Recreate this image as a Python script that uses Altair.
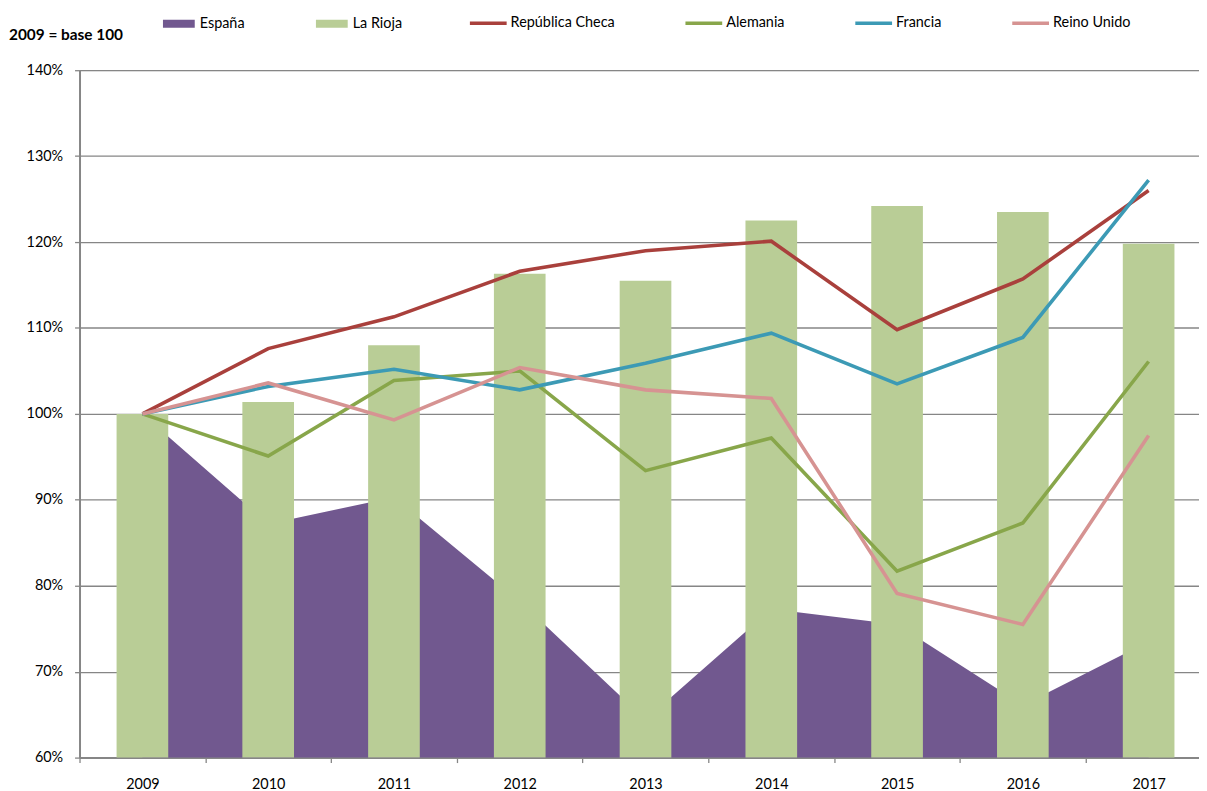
import altair as alt
import pandas as pd

years = ["2009", "2010", "2011", "2012", "2013", "2014", "2015", "2016", "2017"]
espana = [1.000, 0.872, 0.903, 0.782, 0.644, 0.773, 0.755, 0.661, 0.735]
la_rioja = [1.000, 1.014, 1.080, 1.163, 1.155, 1.225, 1.242, 1.235, 1.198]
rep_checa = [1.000, 1.076, 1.113, 1.166, 1.190, 1.201, 1.098, 1.157, 1.260]
alemania = [1.000, 0.951, 1.039, 1.050, 0.934, 0.972, 0.817, 0.873, 1.061]
francia = [1.000, 1.032, 1.052, 1.028, 1.059, 1.094, 1.035, 1.089, 1.272]
reino_unido = [1.000, 1.036, 0.993, 1.054, 1.028, 1.018, 0.791, 0.755, 0.975]
y_ticks = [0.6, 0.7, 0.8, 0.9, 1.0, 1.1, 1.2, 1.3, 1.4]

fill_names = ["España", "La Rioja"]
fill_colors = ["#71588F", "#B9CD96"]
line_names = ["República Checa", "Alemania", "Francia", "Reino Unido"]
line_colors = ["#A9403C", "#88A64A", "#3C9AB5", "#D69392"]

FONT = "Lato"

area_df = pd.DataFrame({"year": years, "value": espana, "serie": "España"})
bar_df = pd.DataFrame({"year": years, "value": la_rioja, "serie": "La Rioja"})
line_df = pd.concat(
    [
        pd.DataFrame({"year": years, "value": vals, "serie": name, "order": i})
        for i, (name, vals) in enumerate(zip(line_names, [rep_checa, alemania, francia, reino_unido]))
    ],
    ignore_index=True,
)

x_enc = alt.X(
    "year:N",
    sort=years,
    title=None,
    scale=alt.Scale(paddingInner=0, paddingOuter=0, range=[0, 1139.6]),
    axis=alt.Axis(
        labelAngle=0,
        labelFont=FONT,
        labelFontSize=14.5,
        labelColor="#000000",
        labelPadding=15,
        tickBand="extent",
        tickSize=5,
        tickColor="#868686",
        tickWidth=1.3,
        domainColor="#868686",
        domainWidth=2,
        grid=False,
    ),
)
y_scale = alt.Scale(domain=[0.6, 1.4], nice=False, zero=False)
y_axis = alt.Axis(
    values=y_ticks,
    format=".0%",
    labelFont=FONT,
    labelFontSize=14.5,
    labelColor="#000000",
    labelPadding=12,
    tickSize=5,
    tickColor="#868686",
    tickWidth=1.3,
    domainColor="#868686",
    domainWidth=2,
    gridColor="#868686",
    gridWidth=1.3,
    title=None,
)

fill_scale = alt.Scale(domain=fill_names, range=fill_colors)
fill_legend = alt.Legend(
    title=None,
    orient="none",
    direction="horizontal",
    legendX=84,
    legendY=-63,
    symbolType="M-1,-0.25H1V0.25H-1Z",
    symbolSize=1024,
    symbolStrokeWidth=0,
    labelFont=FONT,
    labelFontSize=14.5,
    labelColor="#000000",
    labelOffset=5,
    columnPadding=71,
)
stroke_scale = alt.Scale(domain=line_names, range=line_colors)
stroke_legend = alt.Legend(
    title=None,
    orient="none",
    direction="horizontal",
    legendX=391,
    legendY=-68,
    symbolType="stroke",
    symbolSize=1369,
    symbolStrokeWidth=3.6,
    labelFont=FONT,
    labelFontSize=14.5,
    labelColor="#000000",
    labelOffset=2,
    columnPadding=63,
)

area = alt.Chart(area_df).mark_area(opacity=1).encode(
    x=x_enc,
    y=alt.Y("value:Q", scale=y_scale, axis=y_axis),
    y2=alt.datum(0.6),
    fill=alt.Fill("serie:N", scale=fill_scale, legend=fill_legend),
)

bars = alt.Chart(bar_df).mark_bar(size=52, opacity=1).encode(
    x=x_enc,
    y=alt.Y("value:Q", scale=y_scale, axis=y_axis),
    y2=alt.datum(0.6),
    fill=alt.Fill("serie:N", scale=fill_scale, legend=fill_legend),
)

lines = alt.Chart(line_df).mark_line(strokeWidth=3.6, strokeJoin="miter").encode(
    x=x_enc,
    y=alt.Y("value:Q", scale=y_scale, axis=y_axis),
    stroke=alt.Stroke("serie:N", scale=stroke_scale, legend=stroke_legend),
    order="order:Q",
)

chart = (
    alt.layer(area, bars, lines)
    .properties(
        width=1127,
        height=692,
        autosize=alt.AutoSizeParams(type="none"),
        padding={"left": 72, "top": 60, "right": 0, "bottom": 32},
        title=alt.TitleParams(
            text="2009 = base 100",
            anchor="start",
            frame="group",
            font=FONT,
            fontSize=15.5,
            fontWeight="bold",
            color="#000000",
            dx=-71,
            dy=41,
            offset=0,
        ),
    )
    .configure_view(stroke=None)
    .configure(background="#ffffff")
)

chart.save("out.html", embed_options={"renderer": "svg", "actions": False})
